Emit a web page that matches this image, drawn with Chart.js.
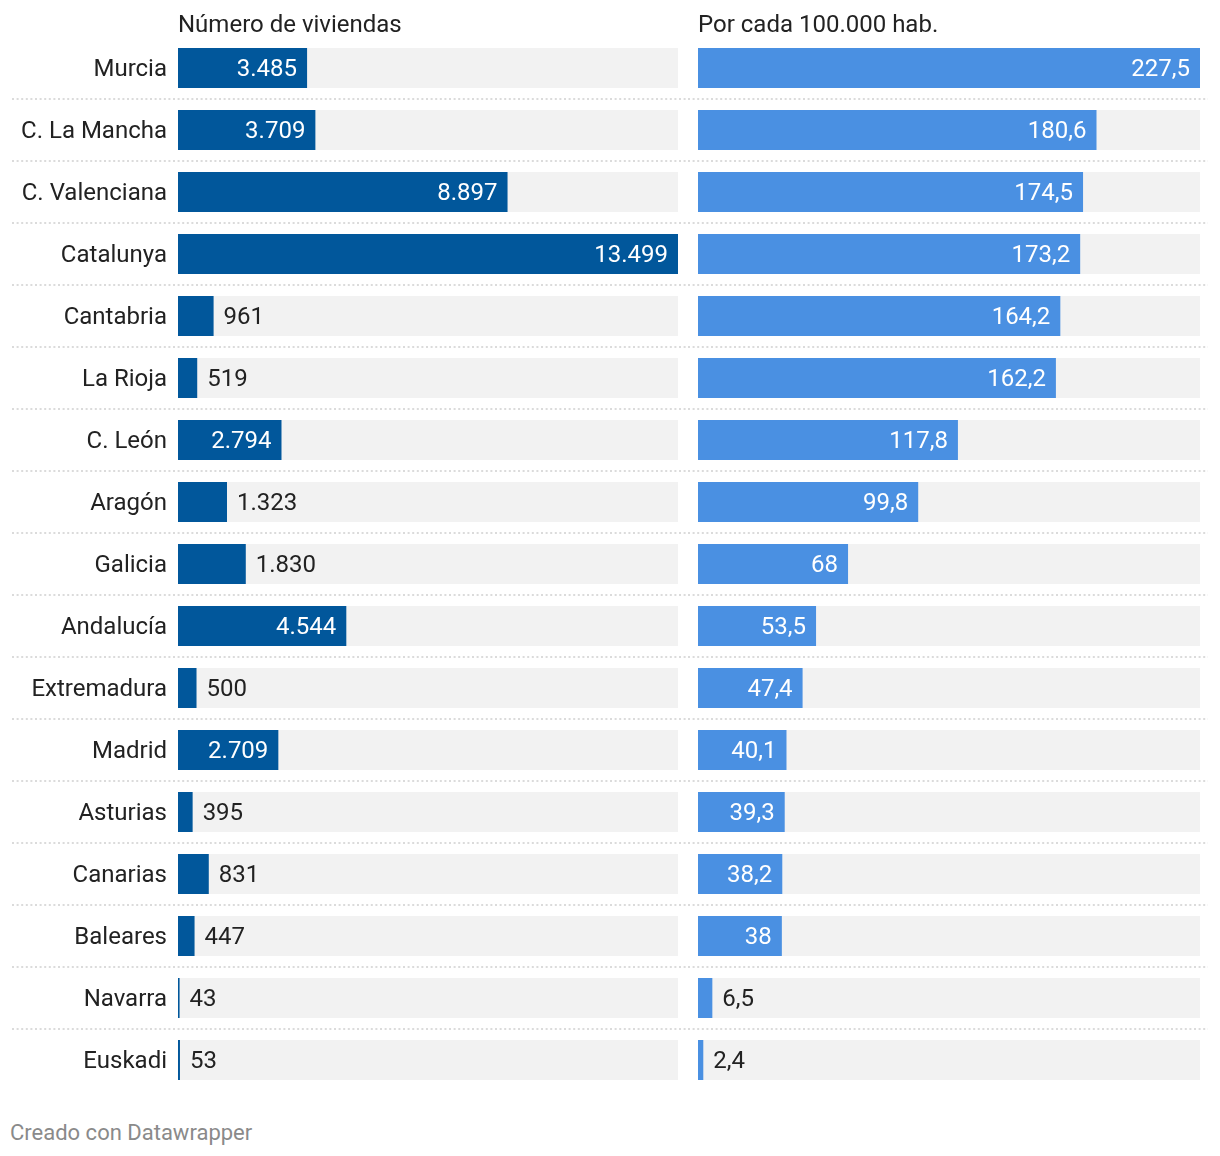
<!DOCTYPE html>
<html lang="es">
<head>
<meta charset="utf-8">
<title>Viviendas</title>
<script src="https://cdn.jsdelivr.net/npm/chart.js@4/dist/chart.umd.min.js"></script>
<style>
  body { margin: 0; background: #fff; font-family: Roboto, sans-serif; }
  #page { position: relative; width: 1220px; height: 1156px; }
  .panel { position: absolute; top: 0; height: 1091px; }
  #left { left: 0; width: 688px; }
  #right { left: 688px; width: 532px; }
  #credit { position: absolute; left: 10px; top: 1120px; font-size: 22px; color: #8a8a8a; }
</style>
</head>
<body>
<div id="page">
  <div class="panel" id="left"><canvas id="leftChart"></canvas></div>
  <div class="panel" id="right"><canvas id="rightChart"></canvas></div>
  <div id="credit">Creado con Datawrapper</div>
</div>
<script>
"use strict";

const regions = ["Murcia", "C. La Mancha", "C. Valenciana", "Catalunya", "Cantabria", "La Rioja", "C. León",
    "Aragón", "Galicia", "Andalucía", "Extremadura", "Madrid", "Asturias", "Canarias", "Baleares", "Navarra", "Euskadi"];
const viviendas = [3485, 3709, 8897, 13499, 961, 519, 2794, 1323, 1830, 4544, 500, 2709, 395, 831, 447, 43, 53];
const porHabitante = [227.5, 180.6, 174.5, 173.2, 164.2, 162.2, 117.8, 99.8, 68, 53.5, 47.4, 40.1, 39.3, 38.2, 38, 6.5, 2.4];
const titles = ["Número de viviendas", "Por cada 100.000 hab."];

const FONT = "Roboto, sans-serif";
const FONT_SIZE = 24;
const TEXT = "#222222";

// 13499 -> "13.499"
function formatThousands(v) {
    return String(v).replace(/\B(?=(\d{3})+(?!\d))/g, ".");
}

// 227.5 -> "227,5"
function formatDecimal(v) {
    return String(v).replace(".", ",");
}

// grey track behind each bar, full width of the chart area
const trackPlugin = {
    id: "track",
    beforeDatasetsDraw(chart) {
        const { ctx, chartArea } = chart;
        ctx.save();
        ctx.fillStyle = "#f2f2f2";
        chart.getDatasetMeta(0).data.forEach(bar => {
            ctx.fillRect(chartArea.left, bar.y - bar.height / 2, chartArea.right - chartArea.left, bar.height);
        });
        ctx.restore();
    }
};

// dotted separators between rows
function separatorPlugin(x0, x1) {
    return {
        id: "separators",
        beforeDraw(chart) {
            const { ctx } = chart;
            const bars = chart.getDatasetMeta(0).data;
            ctx.save();
            ctx.strokeStyle = "#cfcfcf";
            ctx.lineWidth = 1.6;
            ctx.setLineDash([2, 2.6]);
            for (let i = 0; i < bars.length - 1; i++) {
                const y = Math.round((bars[i].y + bars[i + 1].y) / 2);
                ctx.beginPath();
                ctx.moveTo(x0, y);
                ctx.lineTo(x1, y);
                ctx.stroke();
            }
            ctx.restore();
        }
    };
}

// value labels: inside (white) when they fit, otherwise after the bar
function valuePlugin(format) {
    return {
        id: "values",
        afterDatasetsDraw(chart) {
            const { ctx } = chart;
            const values = chart.data.datasets[0].data;
            ctx.save();
            ctx.font = FONT_SIZE + "px " + FONT;
            ctx.textBaseline = "middle";
            chart.getDatasetMeta(0).data.forEach((bar, i) => {
                const text = format(values[i]);
                const w = ctx.measureText(text).width;
                const barWidth = bar.x - bar.base;
                if (w + 20 <= barWidth) {
                    ctx.fillStyle = "#ffffff";
                    ctx.textAlign = "right";
                    ctx.fillText(text, bar.x - 10, bar.y + 2);
                } else {
                    ctx.fillStyle = TEXT;
                    ctx.textAlign = "left";
                    ctx.fillText(text, bar.x + 10, bar.y + 2);
                }
            });
            ctx.restore();
        }
    };
}

function makeChart(id, values, color, title, format, opts) {
    return new Chart(document.getElementById(id), {
        type: "bar",
        data: {
            labels: regions,
            datasets: [{
                data: values,
                backgroundColor: color,
                barPercentage: 40 / 62,
                categoryPercentage: 1
            }]
        },
        options: {
            indexAxis: "y",
            responsive: true,
            maintainAspectRatio: false,
            animation: false,
            layout: { padding: opts.padding },
            plugins: {
                legend: { display: false },
                tooltip: { enabled: false }
            },
            scales: {
                x: {
                    position: "top",
                    min: 0,
                    max: Math.max(...values),
                    grid: { display: false, drawTicks: false },
                    border: { display: false },
                    ticks: { display: false },
                    title: {
                        display: true,
                        text: title,
                        align: "start",
                        color: TEXT,
                        font: { family: FONT, size: FONT_SIZE },
                        padding: { top: 12, bottom: 0 }
                    },
                    afterFit: scale => { scale.height = 37; }
                },
                y: {
                    display: opts.showLabels,
                    grid: { display: false, drawTicks: false },
                    border: { display: false },
                    ticks: {
                        color: TEXT,
                        font: { family: FONT, size: FONT_SIZE },
                        padding: 11,
                        labelOffset: 2
                    },
                    afterFit: scale => {
                        if (opts.showLabels) {
                            scale.width = 178;
                        }
                        scale.paddingTop = 0;
                        scale.paddingBottom = 0;
                    }
                }
            }
        },
        plugins: [separatorPlugin(opts.sepFrom, opts.sepTo), trackPlugin, valuePlugin(format)]
    });
}

makeChart("leftChart", viviendas, "#01579b", titles[0], formatThousands, {
    padding: { left: 0, right: 10, top: 0, bottom: 0 },
    showLabels: true,
    sepFrom: 12,
    sepTo: 688
});

makeChart("rightChart", porHabitante, "#4a90e2", titles[1], formatDecimal, {
    padding: { left: 10, right: 20, top: 0, bottom: 0 },
    showLabels: false,
    sepFrom: 0,
    sepTo: 520
});
</script>
</body>
</html>
